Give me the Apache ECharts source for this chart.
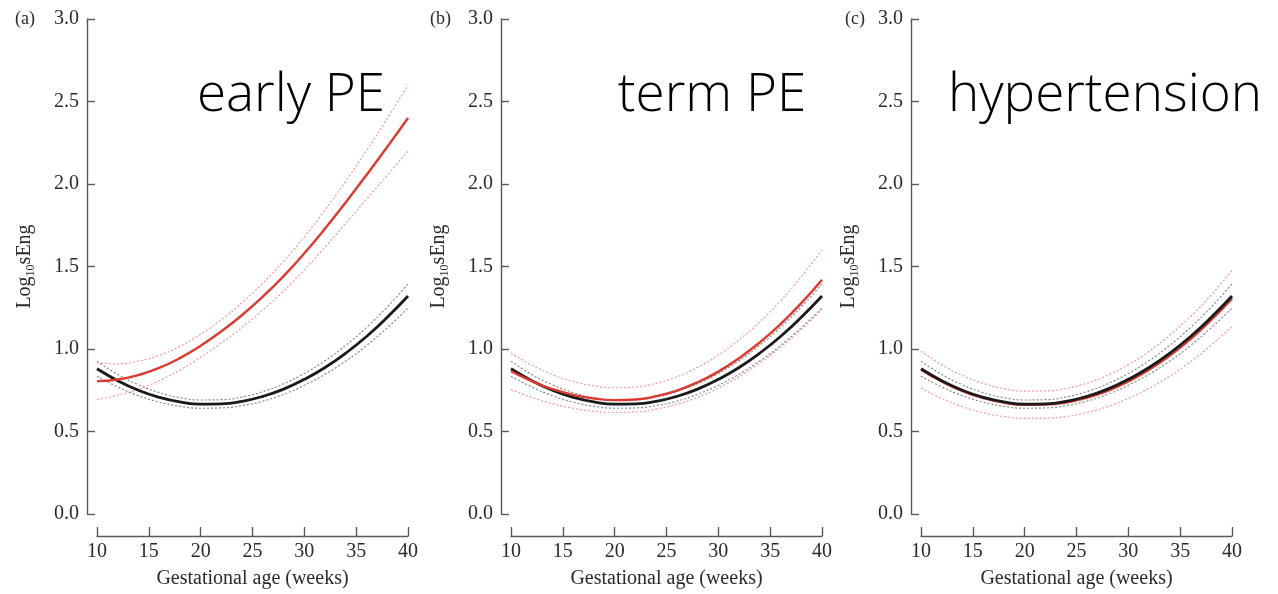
<!DOCTYPE html>
<html>
<head>
<meta charset="utf-8">
<script src="https://cdn.jsdelivr.net/npm/echarts@6/dist/echarts.min.js"></script>
<style>
html,body{margin:0;padding:0;background:#fff;}
#chart{width:1278px;height:594px;}
</style>
</head>
<body>
<div id="chart"></div>
<script>
// Gestational age (weeks)
const weeks = [10, 12, 14, 16, 18, 20, 22, 24, 26, 28, 30, 32, 34, 36, 38, 40];

// Control (unaffected) curve with its confidence band, shared by all panels
const controlMean  = [0.880, 0.808, 0.750, 0.707, 0.679, 0.666, 0.668, 0.683, 0.713, 0.757, 0.816, 0.888, 0.975, 1.076, 1.192, 1.321];
const controlUpper = [0.925, 0.846, 0.783, 0.736, 0.705, 0.691, 0.693, 0.709, 0.742, 0.789, 0.852, 0.929, 1.023, 1.131, 1.255, 1.394];
const controlLower = [0.835, 0.770, 0.717, 0.678, 0.653, 0.641, 0.643, 0.657, 0.684, 0.725, 0.780, 0.847, 0.927, 1.021, 1.129, 1.248];

// (a) early PE
const earlyMean  = [0.805, 0.815, 0.842, 0.885, 0.945, 1.020, 1.107, 1.206, 1.318, 1.442, 1.580, 1.730, 1.890, 2.055, 2.225, 2.400];
const earlyUpper = [0.915, 0.910, 0.927, 0.962, 1.017, 1.090, 1.177, 1.281, 1.400, 1.532, 1.680, 1.843, 2.018, 2.202, 2.397, 2.600];
const earlyLower = [0.695, 0.720, 0.757, 0.808, 0.873, 0.950, 1.037, 1.131, 1.236, 1.352, 1.480, 1.617, 1.762, 1.908, 2.053, 2.200];

// (b) term PE
const termMean  = [0.865, 0.805, 0.757, 0.722, 0.700, 0.690, 0.694, 0.714, 0.748, 0.798, 0.863, 0.944, 1.040, 1.151, 1.278, 1.420];
const termUpper = [0.975, 0.903, 0.845, 0.803, 0.777, 0.765, 0.770, 0.792, 0.831, 0.889, 0.963, 1.056, 1.165, 1.292, 1.438, 1.600];
const termLower = [0.755, 0.707, 0.669, 0.641, 0.623, 0.615, 0.618, 0.636, 0.665, 0.707, 0.763, 0.832, 0.915, 1.010, 1.118, 1.240];

// (c) hypertension
const htnMean  = [0.875, 0.803, 0.745, 0.703, 0.675, 0.662, 0.663, 0.676, 0.704, 0.746, 0.803, 0.874, 0.960, 1.060, 1.176, 1.305];
const htnUpper = [0.987, 0.905, 0.840, 0.792, 0.760, 0.745, 0.746, 0.761, 0.793, 0.841, 0.905, 0.986, 1.084, 1.197, 1.328, 1.475];
const htnLower = [0.763, 0.701, 0.650, 0.614, 0.590, 0.579, 0.580, 0.591, 0.615, 0.651, 0.701, 0.762, 0.836, 0.923, 1.024, 1.135];

const panelLetters = ['(a)', '(b)', '(c)'];
const panelTitles = ['early PE', 'term PE', 'hypertension'];
const xTitle = 'Gestational age (weeks)';

const panels = [
  {mean: earlyMean, upper: earlyUpper, lower: earlyLower},
  {mean: termMean, upper: termUpper, lower: termLower},
  {mean: htnMean, upper: htnUpper, lower: htnLower}
];

const gridLefts = [97, 511, 921];
const gridWidth = 311;
const gridTop = 19;
const gridHeight = 497;

const serif = '"Liberation Serif", "DejaVu Serif", serif';
const axisColor = '#5a5a5a';
const redSolid = '#db3a31';
const redDot = '#f09a9a';
const grayDot = '#888888';

function pairs(ys) { return weeks.map((w, i) => [w, ys[i]]); }

const grids = [], xAxes = [], yAxes = [], series = [], graphics = [];

panels.forEach((p, k) => {
  grids.push({left: gridLefts[k], top: gridTop, width: gridWidth, height: gridHeight, containLabel: false});
  xAxes.push({
    gridIndex: k, type: 'value', min: 10, max: 40, interval: 5,
    offset: 22,
    name: xTitle, nameLocation: 'middle', nameGap: 33,
    nameTextStyle: {fontFamily: serif, fontSize: 20, color: '#2a2a2a'},
    axisLine: {show: true, onZero: false, lineStyle: {color: axisColor, width: 1.4}},
    axisTick: {show: true, inside: true, length: 9, lineStyle: {color: axisColor, width: 1.4}},
    axisLabel: {fontFamily: serif, fontSize: 20, color: '#2a2a2a', margin: 6},
    splitLine: {show: false}
  });
  yAxes.push({
    gridIndex: k, type: 'value', min: 0, max: 3, interval: 0.5,
    offset: 10,
    name: '{a|Log}{b|10}{a|sEng}', nameLocation: 'middle', nameGap: 50, nameRotate: 90,
    nameTextStyle: {
      color: '#2a2a2a',
      rich: {
        a: {fontFamily: serif, fontSize: 20, lineHeight: 24, color: '#2a2a2a', verticalAlign: 'middle'},
        b: {fontFamily: serif, fontSize: 12, lineHeight: 12, color: '#2a2a2a', verticalAlign: 'bottom'}
      }
    },
    axisLine: {show: true, onZero: false, lineStyle: {color: axisColor, width: 1.4}},
    axisTick: {show: true, inside: true, length: 8, lineStyle: {color: axisColor, width: 1.4}},
    axisLabel: {fontFamily: serif, fontSize: 20, color: '#2a2a2a', margin: 8,
      formatter: v => v.toFixed(1)},
    splitLine: {show: false}
  });
  const base = {type: 'line', xAxisIndex: k, yAxisIndex: k, smooth: 0.5, symbol: 'none', silent: true, animation: false};
  series.push(Object.assign({}, base, {data: pairs(controlUpper), lineStyle: {color: grayDot, width: 1.2, type: [2, 2]}}));
  series.push(Object.assign({}, base, {data: pairs(controlLower), lineStyle: {color: grayDot, width: 1.2, type: [2, 2]}}));
  series.push(Object.assign({}, base, {data: pairs(p.upper), lineStyle: {color: redDot, width: 1.2, type: [2, 2]}}));
  series.push(Object.assign({}, base, {data: pairs(p.lower), lineStyle: {color: redDot, width: 1.2, type: [2, 2]}}));
  if (k === 2) {
    series.push(Object.assign({}, base, {data: pairs(p.mean), lineStyle: {color: redSolid, width: 2.4}}));
    series.push(Object.assign({}, base, {data: pairs(controlMean), lineStyle: {color: '#1a1a1a', width: 2.8}}));
  } else {
    series.push(Object.assign({}, base, {data: pairs(controlMean), lineStyle: {color: '#1a1a1a', width: 2.8}}));
    series.push(Object.assign({}, base, {data: pairs(p.mean), lineStyle: {color: redSolid, width: 2.4}}));
  }
});

const letterX = [15, 430, 845];
const titleCX = [291, 712, 1105];
panelLetters.forEach((t, k) => {
  graphics.push({type: 'text', left: letterX[k], top: 10,
    style: {text: t, fontFamily: serif, fontSize: 18, fill: '#2a2a2a'}});
  graphics.push({type: 'text', x: titleCX[k], y: 96,
    style: {text: panelTitles[k], fontFamily: '"Open Sans", "DejaVu Sans", sans-serif', fontWeight: 300,
      fontSize: 53, fill: '#000', align: 'center', verticalAlign: 'middle'}});
});

const chart = echarts.init(document.getElementById('chart'), null, {renderer: 'canvas'});
chart.setOption({
  animation: false,
  backgroundColor: '#ffffff',
  grid: grids,
  xAxis: xAxes,
  yAxis: yAxes,
  series: series,
  graphic: graphics
});
</script>
</body>
</html>
